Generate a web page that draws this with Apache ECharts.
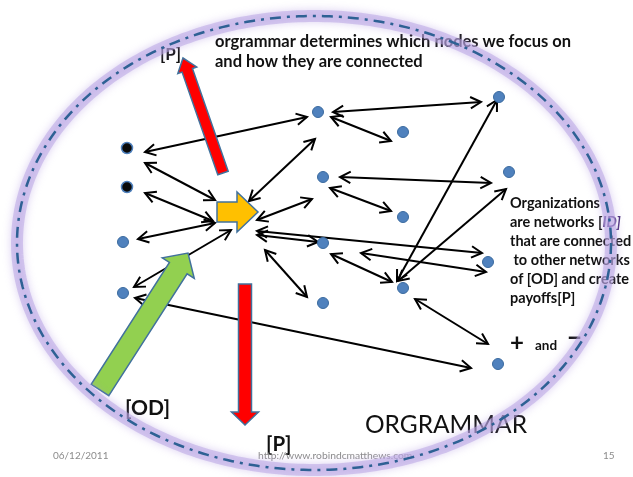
<!DOCTYPE html>
<html>
<head>
<meta charset="utf-8">
<script src="https://cdn.jsdelivr.net/npm/echarts@6/dist/echarts.min.js"></script>
<style>
  html, body { margin: 0; padding: 0; background: #fff; }
  #main { width: 633px; height: 477px; }
</style>
</head>
<body>
<div id="main"></div>
<script>
// node positions (x, y in slide pixels)
var darkNodes = [[127, 148], [127, 187]];
var blueNodes = [
  [123, 242], [123, 293], [318, 112], [403, 132], [499, 97],
  [323, 177], [403, 217], [509, 172], [323, 243], [488, 262],
  [403, 288], [323, 303], [498, 364]
];

// double headed links: x1, y1, x2, y2
var links = [
  [145, 152, 307, 117],
  [145, 163, 215, 200],
  [145, 193, 213, 221],
  [138, 239, 215, 223],
  [134, 287, 231, 230],
  [315, 139, 249, 201],
  [257, 220, 312, 199],
  [257, 231, 482, 253],
  [257, 235, 318, 242],
  [333, 112, 481, 102],
  [331, 117, 391, 141],
  [340, 177, 491, 183],
  [330, 188, 391, 211],
  [397, 281, 497, 100],
  [398, 281, 506, 189],
  [361, 253, 486, 272],
  [331, 254, 392, 282],
  [265, 250, 307, 297],
  [415, 299, 488, 344],
  [135, 298, 471, 368]
];

// block arrows: tail x, tail y, tip x, tip y
var blockArrows = [
  [217, 212, 258, 212],
  [223, 173, 183, 58],
  [245, 284, 245, 425],
  [100, 390, 188, 253]
];
var arrowStyle = [
  { w: 10, h: 20, l: 21, fill: '#ffc000' },
  { w: 5.5, h: 10, l: 13, fill: '#ff0000' },
  { w: 6.5, h: 13.5, l: 13, fill: '#ff0000' },
  { w: 10.5, h: 19, l: 18, fill: '#92d050' }
];

var ring = { cx: 314, cy: 243, rx: 297, ry: 227 };

var chart = echarts.init(document.getElementById('main'));

function chevron(p, q, len, ang) {
  // open arrow head at p, line coming from q
  var dx = q[0] - p[0], dy = q[1] - p[1];
  var d = Math.sqrt(dx * dx + dy * dy);
  var ux = dx / d, uy = dy / d;
  var c = Math.cos(ang), s = Math.sin(ang);
  var a = [p[0] + len * (ux * c - uy * s), p[1] + len * (ux * s + uy * c)];
  var b = [p[0] + len * (ux * c + uy * s), p[1] + len * (-ux * s + uy * c)];
  return [a, p, b];
}

function renderLink(params, api) {
  var p1 = api.coord([api.value(0), api.value(1)]);
  var p2 = api.coord([api.value(2), api.value(3)]);
  var st = { stroke: '#000', lineWidth: 2, fill: null };
  return {
    type: 'group',
    children: [
      { type: 'line', shape: { x1: p1[0], y1: p1[1], x2: p2[0], y2: p2[1] }, style: st },
      { type: 'polyline', shape: { points: chevron(p1, p2, 12, 0.5) }, style: st },
      { type: 'polyline', shape: { points: chevron(p2, p1, 12, 0.5) }, style: st }
    ]
  };
}

function renderBlock(params, api) {
  var t = api.coord([api.value(0), api.value(1)]);
  var p = api.coord([api.value(2), api.value(3)]);
  var s = arrowStyle[params.dataIndex];
  var dx = p[0] - t[0], dy = p[1] - t[1];
  var d = Math.sqrt(dx * dx + dy * dy);
  var ux = dx / d, uy = dy / d, nx = -uy, ny = ux;
  var bx = p[0] - ux * s.l, by = p[1] - uy * s.l;
  var pts = [
    [t[0] + nx * s.w, t[1] + ny * s.w],
    [bx + nx * s.w, by + ny * s.w],
    [bx + nx * s.h, by + ny * s.h],
    p,
    [bx - nx * s.h, by - ny * s.h],
    [bx - nx * s.w, by - ny * s.w],
    [t[0] - nx * s.w, t[1] - ny * s.w]
  ];
  return {
    type: 'polygon',
    shape: { points: pts },
    style: { fill: s.fill, stroke: '#41719c', lineWidth: 1.5 }
  };
}

function renderRing(params, api) {
  var c = api.coord([api.value(0), api.value(1)]);
  var r = api.size([api.value(2), api.value(3)]);
  var pts = [];
  for (var i = 0; i <= 360; i++) {
    var a = i * Math.PI / 180;
    pts.push([c[0] + r[0] * Math.cos(a), c[1] + r[1] * Math.sin(a)]);
  }
  return {
    type: 'group',
    children: [
      {
        type: 'polyline', shape: { points: pts },
        style: { stroke: 'rgba(185,165,228,0.55)', lineWidth: 12, fill: null,
                 shadowBlur: 8, shadowColor: 'rgba(175,150,225,0.8)' }
      },
      {
        type: 'polyline', shape: { points: pts },
        style: { stroke: '#2e6194', lineWidth: 2.5, fill: null, lineDash: [11, 6, 3, 6] }
      }
    ]
  };
}

var font = 'Lato, "Open Sans", sans-serif';
function txt(x, y, text, size) {
  return {
    type: 'text', x: x, y: y, z: 1,
    style: {
      text: text, fill: '#111', textVerticalAlign: 'middle',
      font: 'bold ' + size + 'px ' + font
    }
  };
}

var orgLines = ['Organizations', '{n|are networks [}{i|ID]}', 'that are connected',
  ' to other networks', 'of [OD] and create', 'payoffs[P]'];

var graphics = [
  txt(160, 55, '[P]', 17),
  txt(215, 42, 'orgrammar determines which nodes we focus on', 16.5),
  txt(215, 62, 'and how they are connected', 16.5),
  txt(125, 408, '[OD]', 21),
  txt(266, 444, '[P]', 20.5),
  txt(510, 343, '+', 24),
  txt(535, 346, 'and', 13.5),
  txt(567, 339, '\u2212', 26),
  {
    type: 'text', x: 365, y: 425, z: 1,
    style: { text: 'ORGRAMMAR', fill: '#111', textVerticalAlign: 'middle', font: '24.5px ' + font }
  },
  {
    type: 'text', x: 53, y: 456, z: 1,
    style: { text: '06/12/2011', fill: '#8c8c8c', textVerticalAlign: 'middle', font: '10px ' + font }
  },
  {
    type: 'text', x: 258, y: 456, z: 1,
    style: { text: 'http://www.robindcmatthews.com', fill: '#8c8c8c', textVerticalAlign: 'middle', font: '10.3px ' + font }
  },
  {
    type: 'text', x: 603, y: 456, z: 1,
    style: { text: '15', fill: '#8c8c8c', textVerticalAlign: 'middle', font: '10px ' + font }
  }
];
orgLines.forEach(function (t, i) {
  graphics.push({
    type: 'text', x: 510, y: 203 + i * 19, z: 1,
    style: {
      text: t, fill: '#111', textVerticalAlign: 'middle',
      font: 'bold 14.5px ' + font,
      rich: {
        n: { font: 'bold 14.5px ' + font, fill: '#111' },
        i: { font: 'italic bold 14.5px ' + font, fill: '#4b2f7a' }
      }
    }
  });
});

var option = {
  animation: false,
  grid: { left: 0, right: 0, top: 0, bottom: 0 },
  xAxis: { type: 'value', min: 0, max: 633, show: false },
  yAxis: { type: 'value', min: 0, max: 477, inverse: true, show: false },
  graphic: { elements: graphics },
  series: [
    {
      type: 'custom', z: 3, clip: false,
      renderItem: renderLink,
      encode: { x: [0, 2], y: [1, 3] },
      data: links
    },
    {
      type: 'scatter', z: 4, symbolSize: 11,
      itemStyle: { color: '#4f81bd', borderColor: '#3a6a9e', borderWidth: 1, opacity: 1 },
      data: blueNodes
    },
    {
      type: 'scatter', z: 4, symbolSize: 11,
      itemStyle: { color: '#0a0a0a', borderColor: '#4f81bd', borderWidth: 1.5, opacity: 1 },
      data: darkNodes
    },
    {
      type: 'custom', z: 5, clip: false,
      renderItem: renderBlock,
      encode: { x: [0, 2], y: [1, 3] },
      data: blockArrows
    },
    {
      type: 'custom', z: 6, clip: false, silent: true,
      renderItem: renderRing,
      encode: { x: 0, y: 1 },
      data: [[ring.cx, ring.cy, ring.rx, ring.ry]]
    }
  ]
};
chart.setOption(option);
</script>
</body>
</html>
